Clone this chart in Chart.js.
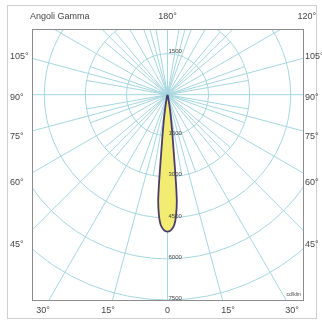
<!DOCTYPE html>
<html>
<head>
<meta charset="utf-8">
<script src="https://cdn.jsdelivr.net/npm/chart.js@4"></script>
<style>
  html, body { margin: 0; padding: 0; background: #fff; }
  canvas { display: block; }
</style>
</head>
<body>
<canvas id="polar" width="322" height="321"></canvas>
<script>
// gamma angles (deg) and intensity (cd/klm), symmetric beam
const gammaAngles = [0, 1, 2, 3, 4, 5, 5.5, 6, 7, 8, 9, 10, 12, 15, 20, 25];
const intensity   = [5000, 4980, 4900, 4760, 4450, 3900, 3200, 2350, 1500, 1000, 680, 430, 180, 60, 10, 0];

// rings of the polar grid (cd/klm)
const rings = [1500, 3000, 4500, 6000, 7500, 9000];
const ringLabels = ['1500', '3000', '4500', '6000', '7500'];
// fine rays stop at the 3000 ring, main rays run to the frame
const fineRayStep = 10;
const fineRayReach = 3000;
const mainRayStep = 15;

// angle labels around the box
const sideLabels = ['105°', '90°', '75°', '60°', '45°'];
const bottomLabels = ['30°', '15°', '0', '15°', '30°'];
const topLabels = ['Angoli Gamma', '180°', '120°'];
const unitLabel = 'cd/klm';

// polar -> cartesian, gamma measured from straight down
const toXY = (g, v) => {
  const a = g * Math.PI / 180;
  return { x: v * Math.sin(a), y: -v * Math.cos(a) };
};

const beam = [];
for (let i = gammaAngles.length - 1; i >= 0; i--) beam.push(toXY(-gammaAngles[i], intensity[i]));
for (let i = 1; i < gammaAngles.length; i++) beam.push(toXY(gammaAngles[i], intensity[i]));

const gridColor = '#a6d6de';
const textColor = '#444';

const polarGrid = {
  id: 'polarGrid',
  beforeDatasetsDraw(chart) {
    const { ctx, chartArea: a, scales: { x, y } } = chart;
    const cx = x.getPixelForValue(0), cy = y.getPixelForValue(0);
    const unit = x.getPixelForValue(1000) - cx;
    const ray = (g, len) => {
      const p = toXY(g, 1);
      ctx.beginPath();
      ctx.moveTo(cx, cy);
      ctx.lineTo(cx + p.x * len, cy - p.y * len);
      ctx.stroke();
    };
    ctx.save();
    ctx.beginPath();
    ctx.rect(a.left, a.top, a.right - a.left, a.bottom - a.top);
    ctx.clip();
    ctx.strokeStyle = gridColor;
    ctx.lineWidth = 1;
    rings.forEach(r => {
      ctx.beginPath();
      ctx.arc(cx, cy, r / 1000 * unit, 0, Math.PI * 2);
      ctx.stroke();
    });
    for (let g = 0; g < 360; g += fineRayStep) {
      if (g % mainRayStep) ray(g, fineRayReach / 1000 * unit);
    }
    for (let g = 0; g < 360; g += mainRayStep) ray(g, 12 * unit);
    ctx.restore();
  },
  afterDatasetsDraw(chart) {
    const { ctx, chartArea: a, scales: { x, y } } = chart;
    const cx = x.getPixelForValue(0);
    ctx.save();
    // outer frame and plot box
    ctx.strokeStyle = '#cfcfcf';
    ctx.lineWidth = 1;
    ctx.strokeRect(7.5, 5.5, 309, 313);
    ctx.strokeStyle = '#8c8c8c';
    ctx.strokeRect(Math.round(a.left) + 0.5, Math.round(a.top) + 0.5,
      Math.round(a.right - a.left), Math.round(a.bottom - a.top));

    // ring values along the axis
    ctx.fillStyle = textColor;
    ctx.font = '6px "Liberation Sans", Arial, sans-serif';
    ctx.textBaseline = 'middle';
    ctx.textAlign = 'left';
    ctx.fillText(ringLabels[0], cx + 1, y.getPixelForValue(1500) - 2);
    ringLabels.forEach((t, i) => {
      ctx.fillText(t, cx + 1, y.getPixelForValue(-rings[i]) - 2);
    });
    ctx.font = '5px "Liberation Sans", Arial, sans-serif';
    ctx.textAlign = 'right';
    ctx.fillText(unitLabel, a.right - 2, a.bottom - 5);

    // angle labels
    ctx.font = '9px "Liberation Sans", Arial, sans-serif';
    ctx.textAlign = 'left';
    ctx.fillText(topLabels[0], 30, 17);
    ctx.textAlign = 'center';
    ctx.fillText(topLabels[1], cx, 17);
    ctx.textAlign = 'right';
    ctx.fillText(topLabels[2], 316, 17);

    const sideY = [57, 98, 137, 183, 245];
    ctx.textAlign = 'left';
    sideLabels.forEach((t, i) => {
      ctx.fillText(t, 10, sideY[i]);
      ctx.fillText(t, 305, sideY[i]);
    });
    const bottomX = [43, 108, cx, 228, 292];
    ctx.textAlign = 'center';
    bottomLabels.forEach((t, i) => ctx.fillText(t, bottomX[i], 311));
    ctx.restore();
  }
};

new Chart(document.getElementById('polar'), {
  type: 'scatter',
  data: {
    datasets: [{
      data: beam,
      showLine: true,
      fill: 'shape',
      backgroundColor: '#f3ec72',
      borderColor: '#4a3d6e',
      borderWidth: 1.8,
      pointRadius: 0,
      tension: 0.2
    }]
  },
  options: {
    responsive: false,
    animation: false,
    layout: { padding: { left: 32, top: 29, right: 19, bottom: 21 } },
    plugins: { legend: { display: false }, tooltip: { enabled: false } },
    scales: {
      x: { type: 'linear', min: -4950, max: 4950, display: false },
      y: { type: 'linear', min: -7500, max: 2400, display: false }
    }
  },
  plugins: [polarGrid]
});
</script>
</body>
</html>
